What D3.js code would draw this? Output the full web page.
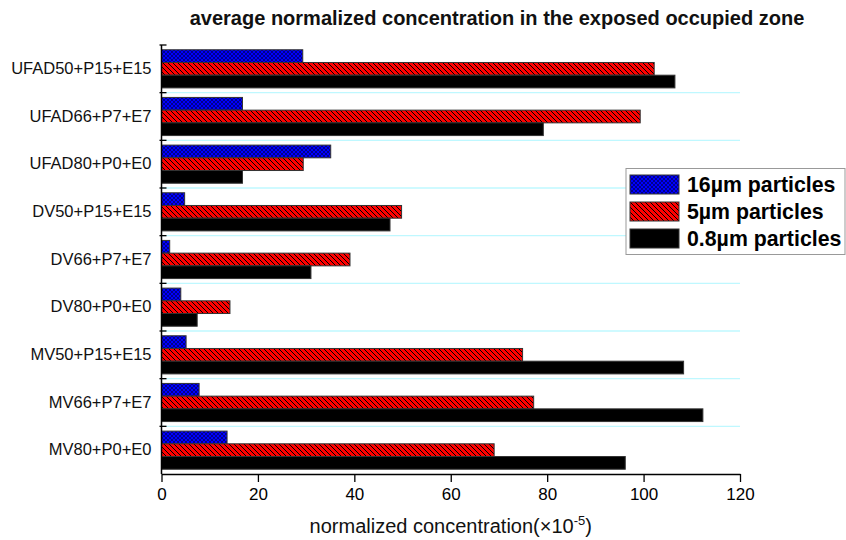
<!DOCTYPE html>
<html>
<head>
<meta charset="utf-8">
<script src="https://cdn.jsdelivr.net/npm/d3@7/dist/d3.min.js"></script>
<style>
  html, body { margin: 0; padding: 0; background: #fff; }
  svg { display: block; font-family: Arial, "Liberation Sans", sans-serif; }
</style>
</head>
<body>
<svg id="chart" width="846" height="540"></svg>
<script>
// ---- data ----
const categories = ["UFAD50+P15+E15", "UFAD66+P7+E7", "UFAD80+P0+E0",
                    "DV50+P15+E15", "DV66+P7+E7", "DV80+P0+E0",
                    "MV50+P15+E15", "MV66+P7+E7", "MV80+P0+E0"];
const seriesNames = ["16\u00b5m particles", "5\u00b5m particles", "0.8\u00b5m particles"];
const values16 = [29.3, 16.8, 35.1, 4.8, 1.7, 4.0, 5.1, 7.8, 13.6];
const values5  = [102.2, 99.3, 29.4, 49.8, 39.1, 14.2, 74.9, 77.2, 69.0];
const values08 = [106.5, 79.2, 16.8, 47.4, 31.0, 7.4, 108.3, 112.3, 96.2];
const xTicks = [0, 20, 40, 60, 80, 100, 120];
const titleText = "average normalized concentration in the exposed occupied zone";
const xLabel = "normalized concentration(\u00d710";
const xLabelSup = "-5";

const seriesValues = [values16, values5, values08];
const fills = ["url(#pBlue)", "url(#pRed)", "#000000"];

const svg = d3.select("#chart");
const M = { left: 161.5, right: 740, top: 45, bottom: 474 };

// patterns
const defs = svg.append("defs");
const pb = defs.append("pattern").attr("id", "pBlue").attr("patternUnits", "userSpaceOnUse")
  .attr("width", 4).attr("height", 4);
pb.append("rect").attr("width", 4).attr("height", 4).attr("fill", "#0000ff");
pb.append("path").attr("d", "M0,0L4,4M4,0L0,4").attr("stroke", "#000070").attr("stroke-width", 0.8);
const pr = defs.append("pattern").attr("id", "pRed").attr("patternUnits", "userSpaceOnUse")
  .attr("width", 5).attr("height", 5);
pr.append("rect").attr("width", 5).attr("height", 5).attr("fill", "#ff0000");
pr.append("path").attr("d", "M0,0L5,5M-1,4L1,6M4,-1L6,1").attr("stroke", "#000").attr("stroke-width", 1);

// scales
const x = d3.scaleLinear().domain([0, 120]).range([M.left, M.right]);
const y = d3.scaleBand().domain(categories).range([M.top, M.bottom])
  .paddingInner(0.2).paddingOuter(0.1);
const ySub = d3.scaleBand().domain(d3.range(3)).range([0, y.bandwidth()]);
const yBound = d3.scaleLinear().domain([0, categories.length]).range([M.top, M.bottom]);

// gridlines at category boundaries
svg.append("g").selectAll("line").data(d3.range(1, categories.length)).join("line")
  .attr("x1", M.left).attr("x2", M.right)
  .attr("y1", d => yBound(d)).attr("y2", d => yBound(d))
  .attr("stroke", "#bff8ff").attr("stroke-width", 1.3);

// bars
const groups = svg.append("g").selectAll("g").data(seriesValues).join("g")
  .attr("fill", (d, i) => fills[i]);
groups.each(function(vals, si) {
  d3.select(this).selectAll("rect").data(vals).join("rect")
    .attr("x", x(0))
    .attr("y", (v, ci) => y(categories[ci]) + ySub(si))
    .attr("width", v => x(v) - x(0))
    .attr("height", ySub.bandwidth())
    .attr("stroke", "#333").attr("stroke-width", 1);
});

// x axis
const xAxis = svg.append("g").attr("transform", `translate(0,${M.bottom})`)
  .call(d3.axisBottom(x).tickValues(xTicks).tickSize(8).tickSizeOuter(0).tickPadding(6));
xAxis.select(".domain").attr("stroke", "#000").attr("stroke-width", 1.5);
xAxis.selectAll(".tick line").attr("stroke", "#000").attr("stroke-width", 1.3);
xAxis.selectAll(".tick text").attr("font-size", 17).attr("fill", "#000")
  .attr("font-family", "Arial, 'Liberation Sans', sans-serif");

// y axis (category labels)
const yAxis = svg.append("g").attr("transform", `translate(${M.left},0)`)
  .call(d3.axisLeft(y).tickSize(0).tickPadding(10));
yAxis.select(".domain").remove();
yAxis.selectAll(".tick text").attr("font-size", 16.5).attr("fill", "#111")
  .attr("font-family", "Arial, 'Liberation Sans', sans-serif");

// y axis line and boundary ticks
svg.append("line").attr("x1", M.left).attr("x2", M.left).attr("y1", M.top).attr("y2", M.bottom)
  .attr("stroke", "#000").attr("stroke-width", 1.5);
svg.append("g").selectAll("line").data(d3.range(0, categories.length)).join("line")
  .attr("x1", M.left - 2).attr("x2", M.left + 5)
  .attr("y1", d => yBound(d)).attr("y2", d => yBound(d))
  .attr("stroke", "#000").attr("stroke-width", 1.3);

// title
svg.append("text").attr("x", 497).attr("y", 25).attr("text-anchor", "middle")
  .attr("font-size", 20).attr("font-weight", "bold").attr("fill", "#111")
  .text(titleText);

// x label
const xl = svg.append("text").attr("x", (M.left + M.right) / 2).attr("y", 533)
  .attr("text-anchor", "middle").attr("font-size", 20).attr("fill", "#111");
xl.append("tspan").text(xLabel);
xl.append("tspan").attr("font-size", 13).attr("dy", -8).text(xLabelSup);
xl.append("tspan").attr("dy", 8).text(")");

// legend
const lg = svg.append("g");
lg.append("rect").attr("x", 626).attr("y", 168.5).attr("width", 219).attr("height", 86)
  .attr("fill", "#fff").attr("stroke", "#999").attr("stroke-width", 1);
const legRows = lg.selectAll("g").data(seriesNames).join("g")
  .attr("transform", (d, i) => `translate(0,${175 + i * 27})`);
legRows.append("rect").attr("x", 630).attr("y", 0).attr("width", 49).attr("height", 19)
  .attr("fill", (d, i) => fills[i]).attr("stroke", "#333").attr("stroke-width", 1);
legRows.append("text").attr("x", 687).attr("y", 17).attr("font-size", 21.3)
  .attr("font-weight", "bold").attr("fill", "#000").text(d => d);
</script>
</body>
</html>
